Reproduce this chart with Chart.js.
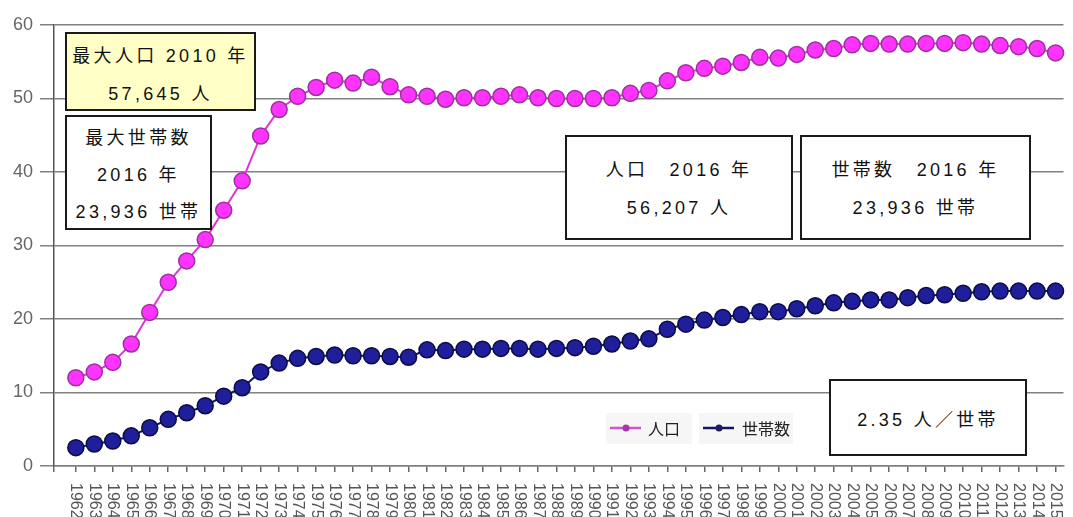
<!DOCTYPE html>
<html><head><meta charset="utf-8">
<script src="https://cdn.jsdelivr.net/npm/chart.js@4/dist/chart.umd.min.js"></script>
<style>
html,body{margin:0;padding:0;background:#fff;overflow:hidden}
#wrap{position:relative;width:1073px;height:517px;background:#fff}
#c{position:absolute;left:0;top:0}
.box{position:absolute;box-sizing:border-box;border:2px solid #1a1a1a;background:#fff;font-family:"Liberation Sans","Noto Sans CJK JP",sans-serif;font-size:18px;letter-spacing:3.3px;color:#111;text-align:center;line-height:38px;white-space:nowrap}
</style></head><body>
<div id="wrap">
<canvas id="c" width="1073" height="517"></canvas>
<div class="box" style="left:65px;top:32px;width:191px;height:79px;background:#ffffc6;padding-top:3px"><div>最大人口 2010 年</div><div>57,645 人</div></div>
<div class="box" style="left:65px;top:115px;width:147px;height:115px;padding-top:3px;line-height:37px"><div>最大世帯数</div><div>2016 年</div><div>23,936 世帯</div></div>
<div class="box" style="left:565px;top:135px;width:228px;height:105px;padding-top:14px"><div>人口　2016 年</div><div>56,207 人</div></div>
<div class="box" style="left:800px;top:135px;width:231px;height:105px;padding-top:14px"><div>世帯数　2016 年</div><div>23,936 世帯</div></div>
<div class="box" style="left:829px;top:379px;width:198px;height:77px;padding-top:20px"><div>2.35 人／世帯</div></div>
</div>
<script>
const years = [1962,1963,1964,1965,1966,1967,1968,1969,1970,1971,
  1972,1973,1974,1975,1976,1977,1978,1979,1980,1981,
  1982,1983,1984,1985,1986,1987,1988,1989,1990,1991,
  1992,1993,1994,1995,1996,1997,1998,1999,2000,2001,
  2002,2003,2004,2005,2006,2007,2008,2009,2010,2011,
  2012,2013,2014,2015];
// 人口 (千人)
const population = [12.0,12.8,14.1,16.6,20.9,25.0,27.9,30.8,34.8,38.8,
  44.9,48.5,50.3,51.5,52.5,52.1,52.9,51.6,50.5,50.3,
  49.9,50.1,50.1,50.3,50.5,50.1,50.0,50.0,50.0,50.1,
  50.7,51.1,52.4,53.5,54.1,54.4,54.9,55.6,55.5,56.0,
  56.6,56.8,57.3,57.5,57.4,57.4,57.5,57.5,57.6,57.4,
  57.2,57.05,56.8,56.2];
// 世帯数 (千世帯)
const households = [2.5,3.0,3.4,4.1,5.2,6.35,7.25,8.2,9.5,10.65,
  12.8,14.0,14.65,14.9,15.1,15.0,15.0,14.9,14.8,15.8,
  15.7,15.9,15.9,16.0,16.0,15.9,16.0,16.1,16.3,16.6,
  17.0,17.3,18.6,19.3,19.85,20.2,20.6,21.0,21.0,21.4,
  21.8,22.2,22.4,22.6,22.6,22.9,23.2,23.3,23.5,23.7,
  23.8,23.8,23.8,23.8];
const yTicks = [0,10,20,30,40,50,60];
const seriesNames = ['人口','世帯数'];

const X_MIN = 1960.82, X_MAX = 2015.43;

const overlay = {
  id: 'overlay',
  afterDraw(chart) {
    const ctx = chart.ctx;
    const xs = chart.scales.x;
    ctx.save();
    ctx.fillStyle = '#555';
    ctx.font = '16px "Liberation Sans", Arial, sans-serif';
    ctx.textAlign = 'left';
    ctx.textBaseline = 'middle';
    years.forEach(y => {
      const px = xs.getPixelForValue(y);
      ctx.save();
      ctx.translate(px, 483);
      ctx.rotate(Math.PI / 2);
      ctx.fillText(String(y), 0, 0);
      ctx.restore();
    });
    ctx.restore();

    // legend
    const ds = chart.data.datasets;
    const items = [{x: 610, tx: 648}, {x: 703, tx: 742}];
    ctx.save();
    items.forEach((it, i) => {
      ctx.fillStyle = '#f6f6f6';
      ctx.fillRect(it.x - 4, 413, (i === 0 ? 86 : 94), 31);
    });
    items.forEach((it, i) => {
      const d = ds[i];
      ctx.strokeStyle = i === 0 ? '#cc55cc' : d.borderColor;
      ctx.lineWidth = 2.5;
      ctx.beginPath(); ctx.moveTo(it.x, 428); ctx.lineTo(it.x + 31, 428); ctx.stroke();
      ctx.fillStyle = i === 0 ? '#aa33aa' : '#1a1a66';
      ctx.beginPath(); ctx.arc(it.x + 16, 428, 3.5, 0, Math.PI * 2); ctx.fill();
      ctx.fillStyle = '#222';
      ctx.font = '16px "Noto Sans CJK JP", sans-serif';
      ctx.textAlign = 'left'; ctx.textBaseline = 'middle';
      ctx.fillText(seriesNames[i], it.tx, 429);
    });
    ctx.restore();
  }
};

Chart.defaults.font.family = '"Liberation Sans", Arial, sans-serif';

new Chart(document.getElementById('c'), {
  type: 'line',
  data: {
    labels: years,
    datasets: [
      {
        label: seriesNames[0], data: population,
        borderColor: '#dd33dd', borderWidth: 2,
        pointBackgroundColor: '#ff33ff', pointBorderColor: '#993399',
        pointRadius: 8, pointBorderWidth: 1.5, tension: 0, clip: false
      },
      {
        label: seriesNames[1], data: households,
        borderColor: '#141464', borderWidth: 2,
        pointBackgroundColor: '#1f1f9c', pointBorderColor: '#0c0c44',
        pointRadius: 8, pointBorderWidth: 1.5, tension: 0, clip: false
      }
    ]
  },
  options: {
    responsive: false,
    animation: false,
    devicePixelRatio: 1,
    layout: { padding: { left: 0, top: 25, right: 0, bottom: 45 } },
    plugins: { legend: { display: false }, tooltip: { enabled: false } },
    scales: {
      x: {
        type: 'linear', min: X_MIN, max: X_MAX,
        afterBuildTicks: s => { s.ticks = [{value: X_MIN}].concat(years.map(v => ({value: v}))); },
        ticks: { display: false },
        grid: { display: true, drawOnChartArea: false, drawTicks: true, tickLength: 6, color: '#666', lineWidth: 1.5 },
        border: { display: true, color: '#808080', width: 1.5 }
      },
      y: {
        min: 0, max: 60,
        afterBuildTicks: s => { s.ticks = yTicks.map(v => ({value: v})); },
        afterFit: s => { s.width = 54; },
        ticks: { color: '#666', padding: 7, font: { size: 18 } },
        grid: { color: '#808080', lineWidth: 1.5, tickLength: 14, drawTicks: true },
        border: { display: true, color: '#555', width: 1.5 }
      }
    }
  },
  plugins: [overlay]
});
</script>
</body></html>
